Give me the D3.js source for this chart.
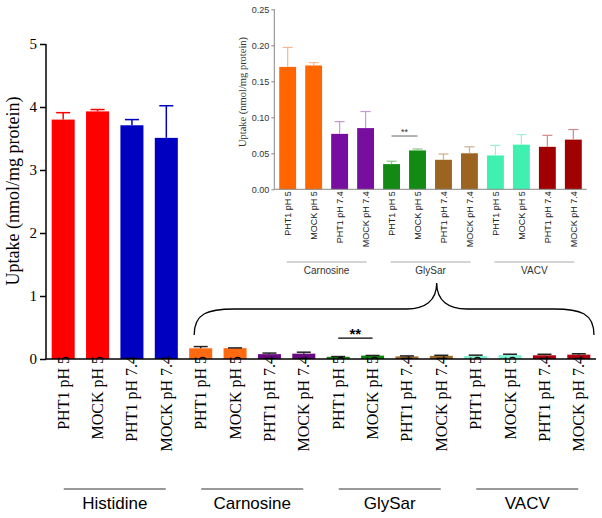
<!DOCTYPE html>
<html><head><meta charset="utf-8">
<script src="https://cdn.jsdelivr.net/npm/d3@7"></script>
<style>body{margin:0;background:#fff}svg{display:block}</style>
</head><body>
<svg id="c" width="602" height="518"></svg>
<script>
// ---- data ----
const labels = ["PHT1 pH 5","MOCK pH 5","PHT1 pH 7.4","MOCK pH 7.4"];
const groups = ["Histidine","Carnosine","GlySar","VACV"];
const histidineValues = [3.80, 3.93, 3.71, 3.51];
const histidineErrors = [3.91, 3.96, 3.80, 4.02];
const carnosineValues = [0.170, 0.172, 0.077, 0.085];
const carnosineErrors = [0.197, 0.176, 0.094, 0.108];
const glysarValues = [0.035, 0.054, 0.041, 0.050];
const glysarErrors = [0.039, 0.056, 0.049, 0.059];
const vacvValues = [0.047, 0.062, 0.059, 0.069];
const vacvErrors = [0.061, 0.076, 0.075, 0.083];
const mainTicks = [0,1,2,3,4,5];
const insetTicks = [0,0.05,0.10,0.15,0.20,0.25];
const sigMain = 0.33;
const sigInset = 0.074;

const mainColors = ["#ff0000","#ff0000","#0000c0","#0000c0",
  "#ff6a10","#ff6a10","#6a0a82","#6a0a82",
  "#0a8a0a","#0a8a0a","#9a6a2a","#9a6a2a",
  "#80f0d0","#80f0d0","#b00010","#b00010"];
const insetColors = ["#ff6600","#ff6600","#780ea0","#780ea0",
  "#138a13","#138a13","#9b6420","#9b6420",
  "#40f0b0","#40f0b0","#a00000","#a00000"];
const insetErrColors = ["#f5b890","#f5b890","#c69ad8","#c69ad8",
  "#8cc88c","#8cc88c","#cfae8c","#cfae8c",
  "#9cf0d4","#9cf0d4","#d08888","#d08888"];

const allVals = [histidineValues, carnosineValues, glysarValues, vacvValues];
const allErrs = [histidineErrors, carnosineErrors, glysarErrors, vacvErrors];
const mainData = [];
groups.forEach((g,gi)=>labels.forEach((l,li)=>mainData.push({id:g+"|"+l, label:l, group:g, v:allVals[gi][li], e:allErrs[gi][li]})));
const insetData = mainData.slice(4);

const svg = d3.select("#c");
const serif = "'Liberation Serif','Times New Roman',serif";
const sans = "'Liberation Sans',Arial,sans-serif";

// ---- main chart ----
const x = d3.scaleBand().domain(mainData.map(d=>d.id)).range([46,596]).paddingInner(0.33).paddingOuter(0.165);
const y = d3.scaleLinear().domain([0,5]).range([359,44]);

const main = svg.append("g");
main.selectAll("rect.bar").data(mainData).join("rect")
  .attr("x",d=>x(d.id)).attr("width",x.bandwidth())
  .attr("y",d=>y(d.v)).attr("height",d=>y(0)-y(d.v))
  .attr("fill",(d,i)=>mainColors[i]);
// error bars
const eb = main.selectAll("g.err").data(mainData).join("g");
eb.append("line").attr("x1",d=>x(d.id)+x.bandwidth()/2).attr("x2",d=>x(d.id)+x.bandwidth()/2)
  .attr("y1",d=>y(d.v)).attr("y2",d=>y(d.e))
  .attr("stroke",(d,i)=>i<4?mainColors[i]:"#222").attr("stroke-width",1.5);
eb.append("line").attr("x1",d=>x(d.id)+x.bandwidth()/2-7).attr("x2",d=>x(d.id)+x.bandwidth()/2+7)
  .attr("y1",d=>y(d.e)).attr("y2",d=>y(d.e))
  .attr("stroke",(d,i)=>i<4?mainColors[i]:"#222").attr("stroke-width",1.5);

// y axis
const yAx = main.append("g").attr("transform","translate(46,0)")
  .call(d3.axisLeft(y).tickValues(mainTicks).tickFormat(d3.format("d")).tickSize(6).tickPadding(3));
yAx.select(".domain").attr("stroke","#000").attr("stroke-width",1.5).attr("d","M0,"+y(5)+"V"+y(0));
yAx.selectAll(".tick line").attr("stroke","#000").attr("stroke-width",1.5);
yAx.selectAll("text").attr("font-family",serif).attr("font-size",15).attr("fill","#000");
// x axis line
main.append("line").attr("x1",46).attr("x2",596).attr("y1",y(0)).attr("y2",y(0)).attr("stroke","#000").attr("stroke-width",1.5);
// x labels
main.selectAll("text.xl").data(mainData).join("text")
  .attr("transform",d=>`translate(${x(d.id)+x.bandwidth()/2+5.5},${y(0)-3}) rotate(-90)`)
  .attr("text-anchor","end").attr("font-family",serif).attr("font-size",16).attr("fill","#000")
  .text(d=>d.label);
// y label
main.append("text").attr("transform","translate(19,191) rotate(-90)").attr("text-anchor","middle")
  .attr("font-family",serif).attr("font-size",18).text("Uptake (nmol/mg protein)");
// group lines + labels
groups.forEach(g=>{
  const ids = mainData.filter(d=>d.group===g).map(d=>d.id);
  const x0 = x(ids[0])+5, x1 = x(ids[3])+x.bandwidth()-19+14;
  const cx = (x(ids[0])+x(ids[3])+x.bandwidth())/2;
  main.append("line").attr("x1",cx-51).attr("x2",cx+51).attr("y1",489).attr("y2",489).attr("stroke","#777").attr("stroke-width",1.5);
  main.append("text").attr("x",cx).attr("y",509).attr("text-anchor","middle").attr("font-family",sans).attr("font-size",17).text(g);
});
// significance
{
  const a = mainData[8].id, b = mainData[9].id;
  const xa = x(a)+x.bandwidth()/2, xb = x(b)+x.bandwidth()/2;
  main.append("line").attr("x1",xa).attr("x2",xb).attr("y1",y(sigMain)).attr("y2",y(sigMain)).attr("stroke","#000").attr("stroke-width",1.3);
  main.append("text").attr("x",(xa+xb)/2).attr("y",y(sigMain)+1).attr("text-anchor","middle").attr("font-family",sans).attr("font-weight","bold").attr("font-size",15).text("**");
}
// brace
{
  const L = x(mainData[4].id)+5, R = 594, mid = 436.7;
  const yb = y(0)-24, yt = y(0)-50, yp = y(0)-76;
  const p = d3.path();
  p.moveTo(L, yb);
  p.bezierCurveTo(L, yt+4, L+14, yt, L+40, yt);
  p.lineTo(mid-30, yt);
  p.bezierCurveTo(mid-12, yt, mid, yt-8, mid, yp);
  p.bezierCurveTo(mid, yt-8, mid+12, yt, mid+30, yt);
  p.lineTo(R-40, yt);
  p.bezierCurveTo(R-14, yt, R, yt+4, R, yb);
  main.append("path").attr("d",p.toString()).attr("fill","none").attr("stroke","#000").attr("stroke-width",1.3);
}

// ---- inset ----
const xi = d3.scaleBand().domain(insetData.map(d=>d.id)).range([274.3,586.7]).paddingInner(0.35).paddingOuter(0.19);
const yi = d3.scaleLinear().domain([0,0.25]).range([189.3,9.3]);
const ins = svg.append("g");
ins.selectAll("rect").data(insetData).join("rect")
  .attr("x",d=>xi(d.id)).attr("width",xi.bandwidth())
  .attr("y",d=>yi(d.v)).attr("height",d=>yi(0)-yi(d.v))
  .attr("fill",(d,i)=>insetColors[i]);
const ie = ins.selectAll("g.ie").data(insetData).join("g");
ie.append("line").attr("x1",d=>xi(d.id)+xi.bandwidth()/2).attr("x2",d=>xi(d.id)+xi.bandwidth()/2)
  .attr("y1",d=>yi(d.v)).attr("y2",d=>yi(d.e)).attr("stroke",(d,i)=>insetErrColors[i]).attr("stroke-width",1.2);
ie.append("line").attr("x1",d=>xi(d.id)+xi.bandwidth()/2-5).attr("x2",d=>xi(d.id)+xi.bandwidth()/2+5)
  .attr("y1",d=>yi(d.e)).attr("y2",d=>yi(d.e)).attr("stroke",(d,i)=>insetErrColors[i]).attr("stroke-width",1.2);
const yiAx = ins.append("g").attr("transform","translate(274.3,0)")
  .call(d3.axisLeft(yi).tickValues(insetTicks).tickFormat(d3.format(".2f")).tickSize(3).tickPadding(2));
yiAx.select(".domain").attr("stroke","#888").attr("d","M0,"+yi(0.25)+"V"+yi(0));
yiAx.selectAll(".tick line").attr("stroke","#888");
yiAx.selectAll("text").attr("font-family",sans).attr("font-size",9).attr("fill","#333");
ins.append("line").attr("x1",274.3).attr("x2",586.7).attr("y1",yi(0)).attr("y2",yi(0)).attr("stroke","#888");
ins.selectAll("text.xl").data(insetData).join("text")
  .attr("transform",d=>`translate(${xi(d.id)+xi.bandwidth()/2+3.2},${yi(0)+2}) rotate(-90)`)
  .attr("text-anchor","end").attr("font-family",sans).attr("font-size",9).attr("fill","#222")
  .text(d=>d.label);
ins.append("text").attr("transform","translate(246,92) rotate(-90)").attr("text-anchor","middle")
  .attr("font-family",serif).attr("font-size",10.5).attr("fill","#333").text("Uptake (nmol/mg protein)");
groups.slice(1).forEach(g=>{
  const ids = insetData.filter(d=>d.group===g).map(d=>d.id);
  const cx = (xi(ids[0])+xi(ids[3])+xi.bandwidth())/2;
  ins.append("line").attr("x1",cx-40).attr("x2",cx+40).attr("y1",262).attr("y2",262).attr("stroke","#aaa").attr("stroke-width",1);
  ins.append("text").attr("x",cx).attr("y",274).attr("text-anchor","middle").attr("font-family",sans).attr("font-size",10).attr("fill","#333").text(g);
});
{
  const a = insetData[4].id, b = insetData[5].id;
  const xa = xi(a)+xi.bandwidth()/2, xb = xi(b)+xi.bandwidth()/2;
  ins.append("line").attr("x1",xa).attr("x2",xb).attr("y1",yi(sigInset)).attr("y2",yi(sigInset)).attr("stroke","#666");
  ins.append("text").attr("x",(xa+xb)/2).attr("y",yi(sigInset)-1).attr("text-anchor","middle").attr("font-family",sans).attr("font-size",9).attr("fill","#333").text("**");
}
</script>
</body></html>
